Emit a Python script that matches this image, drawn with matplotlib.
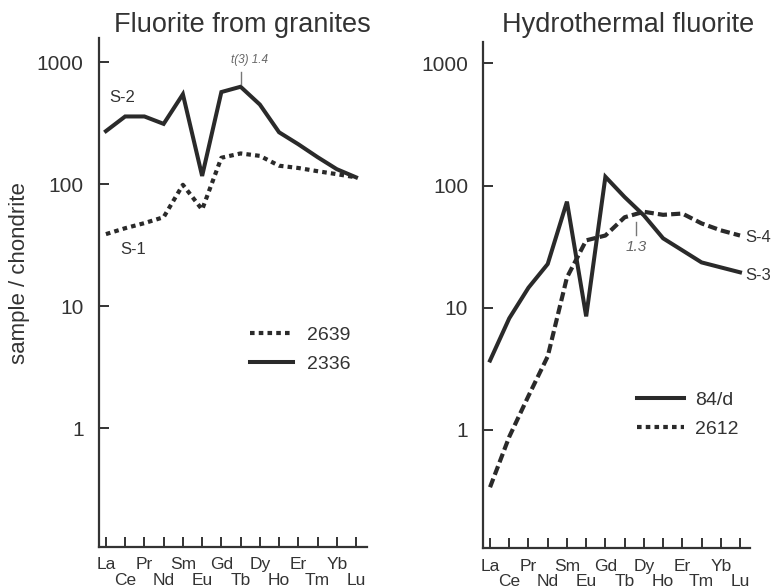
import matplotlib
matplotlib.use('Agg')
import matplotlib.pyplot as plt
from matplotlib.lines import Line2D
from matplotlib.ticker import FixedLocator, FixedFormatter

plt.rcParams['font.family'] = ['Liberation Sans', 'DejaVu Sans']

elements = ['La', 'Ce', 'Pr', 'Nd', 'Sm', 'Eu', 'Gd', 'Tb', 'Dy', 'Ho', 'Er', 'Tm', 'Yb', 'Lu']
s2_2336 = [273, 360, 360, 313, 548, 117, 571, 631, 451, 267, 213, 167, 133, 114]
s1_2639 = [39, 43.6, 48, 53.7, 99, 62, 165, 179, 171, 142, 136, 128, 121, 114]
s3_84d = [3.7, 8.2, 14.6, 22.8, 73.8, 8.5, 118, 80.5, 57, 37, 29.5, 23.5, 21.4, 19.5]
s4_2612 = [0.34, 0.88, 1.9, 4.0, 17.7, 35.6, 39, 55, 61, 57.6, 59, 49, 43, 39]
yticks = [1, 10, 100, 1000]
ytick_labels = ['1', '10', '100', '1000']

LC = '#2a2a2a'
TC = '#333333'
W, H = 776, 588

fig = plt.figure(figsize=(7.76, 5.88), dpi=100)
fig.patch.set_facecolor('white')

def make_ax(x0, x1, ytop, ybot, xlim, ylim):
    ax = fig.add_axes([x0 / W, 1 - ybot / H, (x1 - x0) / W, (ybot - ytop) / H])
    ax.set_yscale('log')
    ax.set_xlim(*xlim)
    ax.set_ylim(*ylim)
    for s in ['top', 'right']:
        ax.spines[s].set_visible(False)
    for s in ['left', 'bottom']:
        ax.spines[s].set_linewidth(1.6)
        ax.spines[s].set_color(TC)
    ax.yaxis.set_major_locator(FixedLocator(yticks))
    ax.yaxis.set_major_formatter(FixedFormatter(ytick_labels))
    ax.yaxis.set_minor_locator(FixedLocator([]))
    ax.tick_params(axis='y', which='major', direction='in', length=7.5, width=1.4,
                   color=TC, labelsize=15, labelcolor=TC, pad=11)
    even = list(range(0, len(elements), 2))
    odd = list(range(1, len(elements), 2))
    ax.xaxis.set_major_locator(FixedLocator(even))
    ax.xaxis.set_major_formatter(FixedFormatter([elements[i] for i in even]))
    ax.xaxis.set_minor_locator(FixedLocator(odd))
    ax.xaxis.set_minor_formatter(FixedFormatter([elements[i] for i in odd]))
    ax.tick_params(axis='x', which='both', direction='in', length=7.5, width=1.4,
                   color=TC, labelsize=12.5, labelcolor=TC)
    ax.tick_params(axis='x', which='major', pad=7.5)
    ax.tick_params(axis='x', which='minor', pad=18.5)
    ax.patch.set_alpha(0)
    return ax

x = list(range(len(elements)))

# Left panel
axl = make_ax(99, 367, 38, 547, (-0.36, 13.57), (0.1057, 1585))
axl.plot(x, s2_2336, color=LC, lw=2.9, solid_joinstyle='miter')
axl.plot(x, s1_2639, color=LC, lw=3.0, dashes=(1.1, 1.0), dash_capstyle='butt')
axl.text(0.2, 518, 'S-2', fontsize=12, color=TC, ha='left', va='center')
axl.text(0.73, 29.2, 'S-1', fontsize=12, color=TC, ha='left', va='center')
axl.plot([7, 7], [670, 836], color='#777777', lw=1.0)
axl.text(7.44, 1043, 't(3) 1.4', fontsize=8.5, style='italic', color='#666666',
         ha='center', va='center')
hl = [Line2D([], [], color=LC, lw=3.0, dashes=(1.1, 1.0), dash_capstyle='butt'),
      Line2D([], [], color=LC, lw=2.9)]
legl = axl.legend(hl, ['2639', '2336'], loc='upper left',
                  bbox_to_anchor=(250 / W, 1 - 326 / H), bbox_transform=fig.transFigure,
                  frameon=False, fontsize=14, handlelength=2.2, handletextpad=0.75,
                  labelspacing=0.62, borderpad=0, borderaxespad=0)
for t in legl.get_texts():
    t.set_color(TC)

# Right panel
axr = make_ax(483.3, 750, 41.7, 548.3, (-0.35, 13.52), (0.1076, 1503))
axr.plot(x, s3_84d, color=LC, lw=2.9, solid_joinstyle='miter')
axr.plot(x, s4_2612, color=LC, lw=3.0, dashes=(2.2, 1.0), dash_capstyle='butt')
axr.text(13.26, 37.9, 'S-4', fontsize=12, color=TC, ha='left', va='center')
axr.text(13.26, 18.4, 'S-3', fontsize=12, color=TC, ha='left', va='center')
axr.plot([7.6, 7.6], [39.4, 50], color='#777777', lw=1.0)
axr.text(7.6, 31.3, '1.3', fontsize=11, style='italic', color='#666666',
         ha='center', va='center')
hr = [Line2D([], [], color=LC, lw=2.9),
      Line2D([], [], color=LC, lw=3.0, dashes=(1.1, 1.0), dash_capstyle='butt')]
legr = axr.legend(hr, ['84/d', '2612'], loc='upper left',
                  bbox_to_anchor=(637 / W, 1 - 391 / H), bbox_transform=fig.transFigure,
                  frameon=False, fontsize=14, handlelength=2.4, handletextpad=0.6,
                  labelspacing=0.62, borderpad=0, borderaxespad=0)
for t in legr.get_texts():
    t.set_color(TC)

# Titles and y label
fig.text(242 / W, 1 - 25 / H, 'Fluorite from granites', fontsize=19.5, color=TC,
         ha='center', va='center')
fig.text(628 / W, 1 - 25 / H, 'Hydrothermal fluorite', fontsize=19.5, color=TC,
         ha='center', va='center')
fig.text(20 / W, 1 - 273 / H, 'sample / chondrite', fontsize=16, color=TC,
         rotation=90, ha='center', va='center')

fig.savefig('out.png', dpi=100, facecolor='white')
